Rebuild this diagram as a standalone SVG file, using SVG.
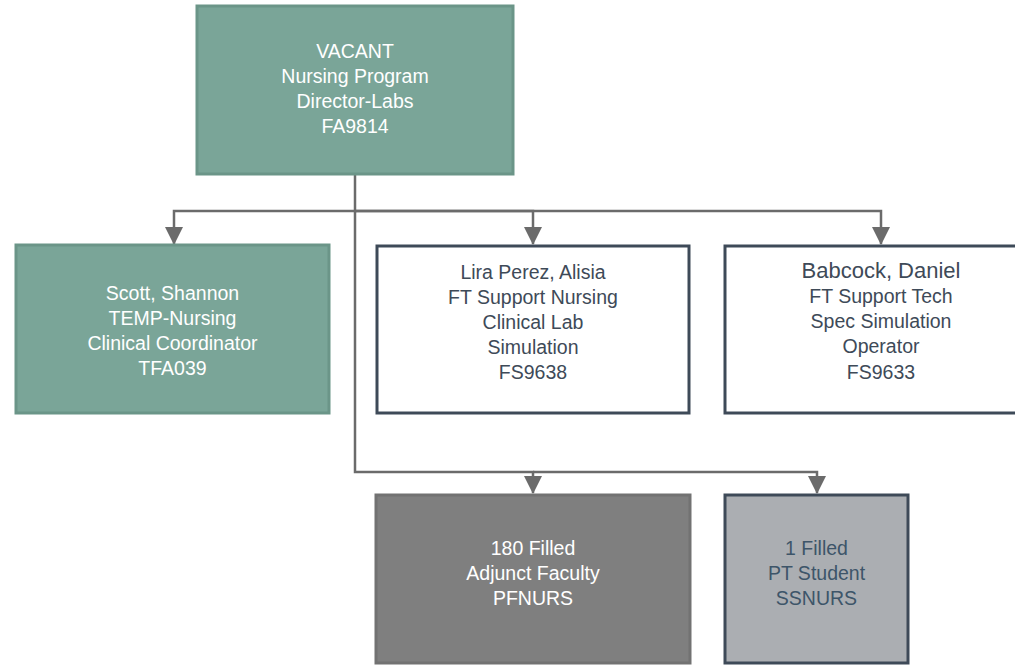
<svg xmlns="http://www.w3.org/2000/svg" width="1015" height="666" viewBox="0 0 1015 666">
<style>
.teal{fill:#7aa598;stroke:#6b9588;stroke-width:3}
.white{fill:#ffffff;stroke:#3e4a58;stroke-width:3}
.gray{fill:#7f7f7f;stroke:#727272;stroke-width:3}
.lgray{fill:#abaeb2;stroke:#3e4a58;stroke-width:3}
.conn{fill:none;stroke:#6b6b6b;stroke-width:2.5}
text{font-family:"Liberation Sans",Arial,sans-serif;font-size:19.5px;text-anchor:middle}
.tw{fill:#ffffff}
.td{fill:#3e4a58}
.tb{fill:#3d5569}
</style>
<defs>
<marker id="arr" markerUnits="userSpaceOnUse" markerWidth="18" markerHeight="18" refX="17" refY="9" orient="auto" viewBox="0 0 18 18">
<path d="M0,0 L18,9 L0,18 z" fill="#6b6b6b"/>
</marker>
</defs>
<g id="connectors">
<path class="conn" d="M355,175 V211 H174 V244" marker-end="url(#arr)"/>
<path class="conn" d="M355,211 H533 V244" marker-end="url(#arr)"/>
<path class="conn" d="M355,211 H881 V244" marker-end="url(#arr)"/>
<path class="conn" d="M355,211 V472 H533 V493" marker-end="url(#arr)"/>
<path class="conn" d="M533,472 H817 V493" marker-end="url(#arr)"/>
</g>
<g id="node-director">
<rect class="teal" x="197" y="6" width="316" height="168"/>
<text class="tw" x="355" y="58">VACANT</text>
<text class="tw" x="355" y="83">Nursing Program</text>
<text class="tw" x="355" y="108">Director-Labs</text>
<text class="tw" x="355" y="133">FA9814</text>
</g>
<g id="node-scott">
<rect class="teal" x="16" y="245" width="313" height="168"/>
<text class="tw" x="172.5" y="300">Scott, Shannon</text>
<text class="tw" x="172.5" y="325">TEMP-Nursing</text>
<text class="tw" x="172.5" y="350">Clinical Coordinator</text>
<text class="tw" x="172.5" y="375">TFA039</text>
</g>
<g id="node-lira">
<rect class="white" x="377" y="246" width="312" height="167"/>
<text class="td" x="533" y="279">Lira Perez, Alisia</text>
<text class="td" x="533" y="304">FT Support Nursing</text>
<text class="td" x="533" y="329">Clinical Lab</text>
<text class="td" x="533" y="354">Simulation</text>
<text class="td" x="533" y="379">FS9638</text>
</g>
<g id="node-babcock">
<rect class="white" x="725" y="246" width="312" height="167"/>
<text class="td" x="881" y="278" style="font-size:22px">Babcock, Daniel</text>
<text class="td" x="881" y="303">FT Support Tech</text>
<text class="td" x="881" y="328">Spec Simulation</text>
<text class="td" x="881" y="353">Operator</text>
<text class="td" x="881" y="379">FS9633</text>
</g>
<g id="node-adjunct">
<rect class="gray" x="376" y="495" width="314" height="168"/>
<text class="tw" x="533" y="555">180 Filled</text>
<text class="tw" x="533" y="580">Adjunct Faculty</text>
<text class="tw" x="533" y="605">PFNURS</text>
</g>
<g id="node-student">
<rect class="lgray" x="725" y="495" width="183" height="168"/>
<text class="tb" x="816.5" y="555">1 Filled</text>
<text class="tb" x="816.5" y="580">PT Student</text>
<text class="tb" x="816.5" y="605">SSNURS</text>
</g>
</svg>
